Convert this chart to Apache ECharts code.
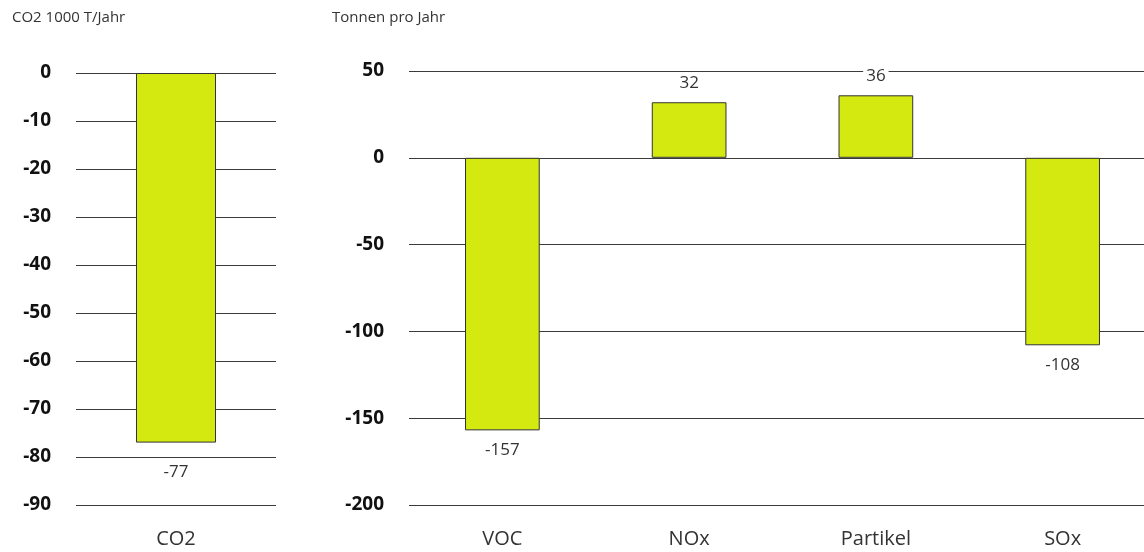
<!DOCTYPE html>
<html>
<head>
<meta charset="utf-8">
<script src="https://cdn.jsdelivr.net/npm/echarts@6/dist/echarts.min.js"></script>
<style>
  html, body { margin: 0; padding: 0; background: #fff; }
  #chart { width: 1144px; height: 552px; }
</style>
</head>
<body>
<div id="chart"></div>
<script>
    var co2Categories = ['CO2'];
    var co2Values = [-77];
    var co2Ticks = [0, -10, -20, -30, -40, -50, -60, -70, -80, -90];

    var otherCategories = ['VOC', 'NOx', 'Partikel', 'SOx'];
    var otherValues = [-157, 32, 36, -108];
    var otherTicks = [50, 0, -50, -100, -150, -200];

    var fontFamily = '"Open Sans", "Noto Sans", sans-serif';
    var barColor = '#d4e90f';

    var toItems = function (values, dist) {
        return values.map(function (v) {
            return {
                value: v,
                label: { position: v < 0 ? 'bottom' : 'top', distance: dist }
            };
        });
    };

    var yAxisBase = function (idx, ticks) {
        return {
            type: 'value',
            gridIndex: idx,
            min: ticks[ticks.length - 1],
            max: ticks[0],
            interval: ticks[0] - ticks[1],
            axisLine: { show: false },
            axisTick: { show: false },
            axisLabel: {
                margin: 25,
                fontSize: 19,
                fontWeight: 'bold',
                color: '#111',
                fontFamily: fontFamily
            },
            splitLine: { lineStyle: { color: '#3a3a3a', width: 1 } }
        };
    };

    var xAxisBase = function (idx, cats) {
        return {
            type: 'category',
            gridIndex: idx,
            data: cats,
            axisLine: { show: false },
            axisTick: { show: false },
            axisLabel: {
                margin: 24,
                fontSize: 20,
                color: '#333',
                fontFamily: fontFamily
            }
        };
    };

    var seriesBase = function (idx, values, dist) {
        return {
            type: 'bar',
            xAxisIndex: idx,
            yAxisIndex: idx,
            barWidth: '40%',
            data: toItems(values, dist),
            itemStyle: {
                color: barColor,
                borderColor: '#333',
                borderWidth: 1
            },
            label: {
                show: true,
                fontSize: 17,
                color: '#333',
                fontFamily: fontFamily,
                backgroundColor: '#fff',
                padding: [0, 3]
            }
        };
    };

    var titleStyle = { fontSize: 15, fontWeight: 'normal', color: '#333', fontFamily: fontFamily };

    var chart = echarts.init(document.getElementById('chart'));
    chart.setOption({
        animation: false,
        backgroundColor: '#fff',
        title: [
            { text: 'CO2 1000 T/Jahr', left: 7, top: 5, textStyle: titleStyle },
            { text: 'Tonnen pro Jahr', left: 327, top: 5, textStyle: titleStyle }
        ],
        grid: [
            { left: 76, width: 200, top: 73, height: 432, outerBoundsMode: 'none' },
            { left: 409, width: 747, top: 71, height: 434, outerBoundsMode: 'none' }
        ],
        xAxis: [xAxisBase(0, co2Categories), xAxisBase(1, otherCategories)],
        yAxis: [yAxisBase(0, co2Ticks), yAxisBase(1, otherTicks)],
        series: [seriesBase(0, co2Values, 21), seriesBase(1, otherValues, 11)]
    });
</script>
</body>
</html>
